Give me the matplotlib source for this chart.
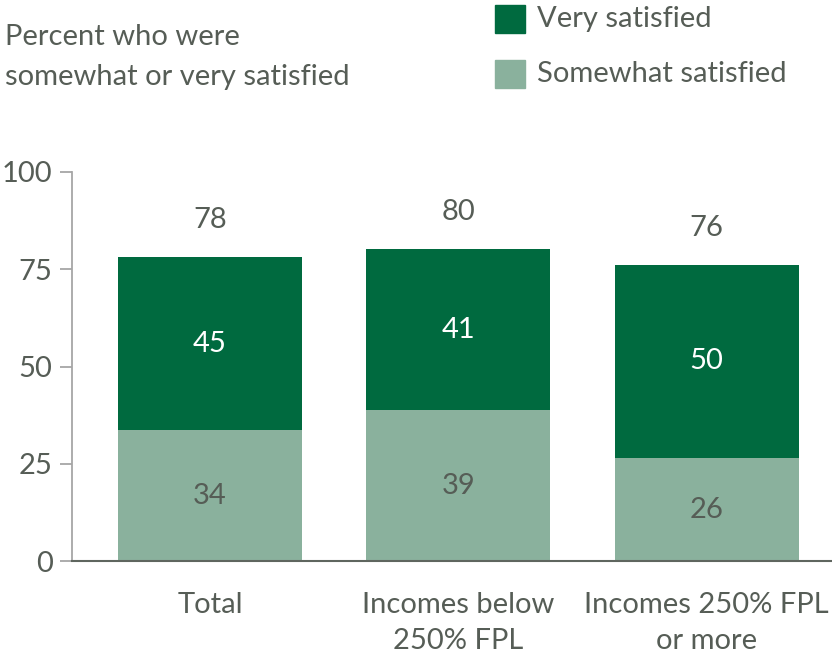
import matplotlib
matplotlib.use('Agg')
import matplotlib.pyplot as plt
import matplotlib.patches as patches

# Share of adults satisfied, by income group
categories = ['Total', 'Incomes below\n250% FPL', 'Incomes 250% FPL\nor more']
somewhat = [33.6, 38.8, 26.4]
very = [44.6, 41.4, 49.8]
yticks = [0, 25, 50, 75, 100]

dark_green = '#006A3F'
light_green = '#8AB19D'
text_col = '#565D56'
fs = 21

plt.rcParams['font.family'] = ['Lato', 'DejaVu Sans']

fig = plt.figure(figsize=(8.32, 6.56), dpi=100)
ax = fig.add_axes([72 / 832, 95 / 656, 760 / 832, 389 / 656])

x = range(len(categories))
width = 0.742
ax.bar(x, somewhat, width, color=light_green, zorder=2)
ax.bar(x, very, width, bottom=somewhat, color=dark_green, zorder=2)

for i in x:
    total = somewhat[i] + very[i]
    ax.text(i, somewhat[i] / 2, f'{round(somewhat[i])}', ha='center', va='center',
            fontsize=fs, color=text_col)
    ax.text(i, somewhat[i] + very[i] / 2, f'{round(very[i])}', ha='center', va='center',
            fontsize=fs, color='white')
    ax.text(i, total + 9.5, f'{round(total)}', ha='center', va='center',
            fontsize=fs, color=text_col)

ax.set_xlim(-0.556, 2.505)
ax.set_ylim(0, 100)
ax.set_yticks(yticks)
ax.set_xticks(list(x))
ax.set_xticklabels(categories, fontsize=fs, color=text_col, linespacing=1.5)
ax.tick_params(axis='x', length=0, pad=22)
ax.tick_params(axis='y', length=9, width=1.3, color='#A6A6A6', labelsize=fs,
               labelcolor=text_col, pad=5)

for side in ['top', 'right']:
    ax.spines[side].set_visible(False)
ax.spines['left'].set_color('#A6A6A6')
ax.spines['left'].set_linewidth(1.3)
ax.spines['bottom'].set_color('#5F665F')
ax.spines['bottom'].set_linewidth(1.5)

# Subtitle and legend in the top band
fig.text(5 / 832, 1 - 57 / 656, 'Percent who were\nsomewhat or very satisfied',
         fontsize=fs, color=text_col, ha='left', va='center', linespacing=1.62)

legend_items = [('Very satisfied', dark_green, 19), ('Somewhat satisfied', light_green, 74)]
for label, col, yc in legend_items:
    fig.patches.append(patches.Rectangle((495 / 832, 1 - (yc + 14) / 656), 30 / 832, 28 / 656,
                                         transform=fig.transFigure, color=col))
    fig.text(537 / 832, 1 - yc / 656, label, fontsize=fs, color=text_col,
             ha='left', va='center')

plt.savefig('out.png', dpi=100)
plt.close()
